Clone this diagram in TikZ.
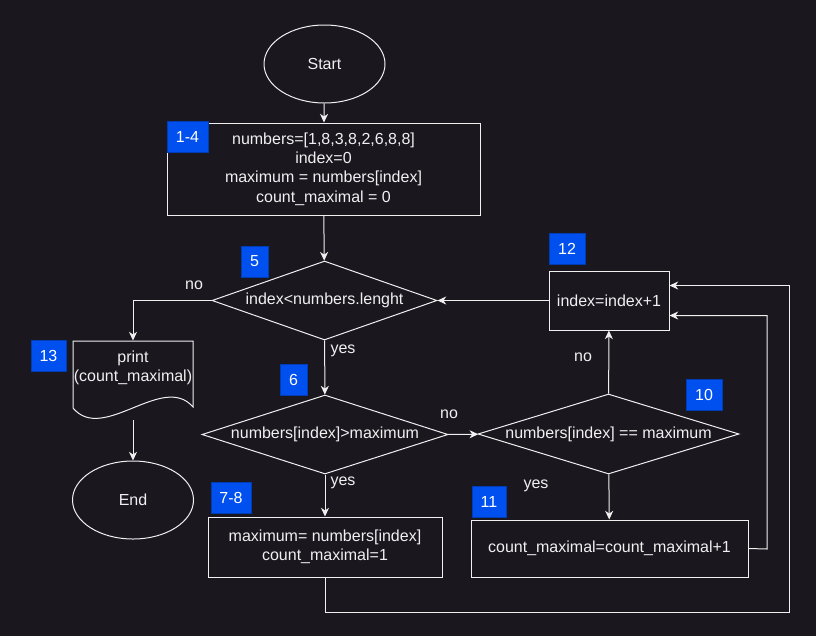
\documentclass[tikz,border=0pt]{standalone}
\usepackage{fontspec}
\setmainfont{Liberation Sans}
\usetikzlibrary{shapes.geometric,arrows.meta}

\definecolor{darkbg}{HTML}{1A171F}
\definecolor{tagblue}{HTML}{0050EF}
\definecolor{fg}{HTML}{F0F0F0}

\tikzset{
        base/.style={draw=fg,line width=0.75pt,text=fg,inner sep=0pt,align=center,
                font=\fontsize{12pt}{14.5pt}\selectfont},
        term/.style={base,shape=ellipse,minimum width=90.75pt,minimum height=58.5pt},
        proc/.style={base,shape=rectangle},
        cond/.style={base,shape=diamond,aspect=3.3},
        tag/.style={shape=rectangle,fill=tagblue,draw=tagblue!75!black,text=white,
                inner sep=0pt,minimum height=23.25pt,font=\fontsize{12pt}{14.5pt}\selectfont},
        lbl/.style={text=fg,inner sep=0pt,align=center,font=\fontsize{12pt}{14.5pt}\selectfont},
}

\begin{document}
\begin{tikzpicture}[x=0.75pt,y=-0.75pt,>={Stealth[length=6.5pt,width=6pt,inset=2pt]},
        line width=0.75pt]
        \fill[darkbg] (0,0) rectangle (816,636);
        \useasboundingbox (0,0) rectangle (816,636);

        \node[term](start) at (324.5,64) {Start};
        \node[proc,minimum width=234.75pt,minimum height=69pt](init) at (323.5,169)
                {numbers=[1,8,3,8,2,6,8,8]\\index=0\\maximum = numbers[index]\\count\_maximal = 0};
        \node[cond,minimum width=168.75pt,minimum height=59.25pt](loopcond) at (324.5,300.5) {index<numbers.lenght};
        \node[cond,minimum width=184.5pt,minimum height=59.25pt](greater) at (325,434.5) {numbers[index]>maximum};
        \node[cond,minimum width=195.75pt,minimum height=60pt](equal) at (608.5,434) {numbers[index] == maximum};
        \node[proc,minimum width=90pt,minimum height=44.25pt](incr) at (609,300.5) {index=index+1};
        \node[proc,minimum width=175.5pt,minimum height=45pt](update) at (325,547)
                {maximum= numbers[index]\\count\_maximal=1};
        \node[proc,minimum width=207.75pt,minimum height=42.75pt](countup) at (609.5,548.5) {count\_maximal=count\_maximal+1};
        \node[lbl,minimum width=90pt,minimum height=40.5pt](output) at (133,368) {print\\(count\_maximal)};
        \draw[fg] (73,341) -- (193,341) -- (193,407) .. controls (163,372) and (103,444) .. (73,408) -- cycle;
        \coordinate (outbot) at (133,420);
        \node[term](stop) at (133,500) {End};

        % step numbers
        \node[tag,minimum width=30.75pt](tag14) at (187.5,136.5) {1-4};
        \node[tag,minimum width=20.25pt](tag5) at (254.5,261.5) {5};
        \node[tag,minimum width=20.25pt](tag6) at (293.5,379.5) {6};
        \node[tag,minimum width=30pt](tag78) at (231,498) {7-8};
        \node[tag,minimum width=27pt](tag10) at (704,394.5) {10};
        \node[tag,minimum width=25.5pt](tag11) at (489,502) {11};
        \node[tag,minimum width=27pt](tag12) at (567,248.5) {12};
        \node[tag,minimum width=26.25pt](tag13) at (48.5,355.5) {13};

        \path [->] (start) edge[fg] (init);
        \path [->] (init) edge[fg] (loopcond);
        \draw[->,fg] (loopcond.west) -| (output.north);
        \path [->] (outbot) edge[fg] (stop);
        \path [->] (loopcond) edge[fg] (greater);
        \path [->] (greater) edge[fg] (equal);
        \path [->] (equal) edge[fg] (incr);
        \path [->] (incr) edge[fg] (loopcond);
        \path [->] (greater) edge[fg] (update);
        \path [->] (equal) edge[fg] (countup);
        \coordinate (countR) at (767,549);
        \coordinate (loopR) at (789,612);
        \draw[->,fg] (countup.east) -- (countR) |- ([yshift=-11.25pt]incr.east);
        \draw[->,fg] (update.south) |- (loopR) |- ([yshift=11.25pt]incr.east);

        \node[lbl](no5) at (194,285) {no};
        \node[lbl](yes5) at (343,351) {yes};
        \node[lbl](no6) at (449,414) {no};
        \node[lbl](yes6) at (343,483) {yes};
        \node[lbl](no10) at (583,357) {no};
        \node[lbl](yes10) at (536,486) {yes};
\end{tikzpicture}
\end{document}
